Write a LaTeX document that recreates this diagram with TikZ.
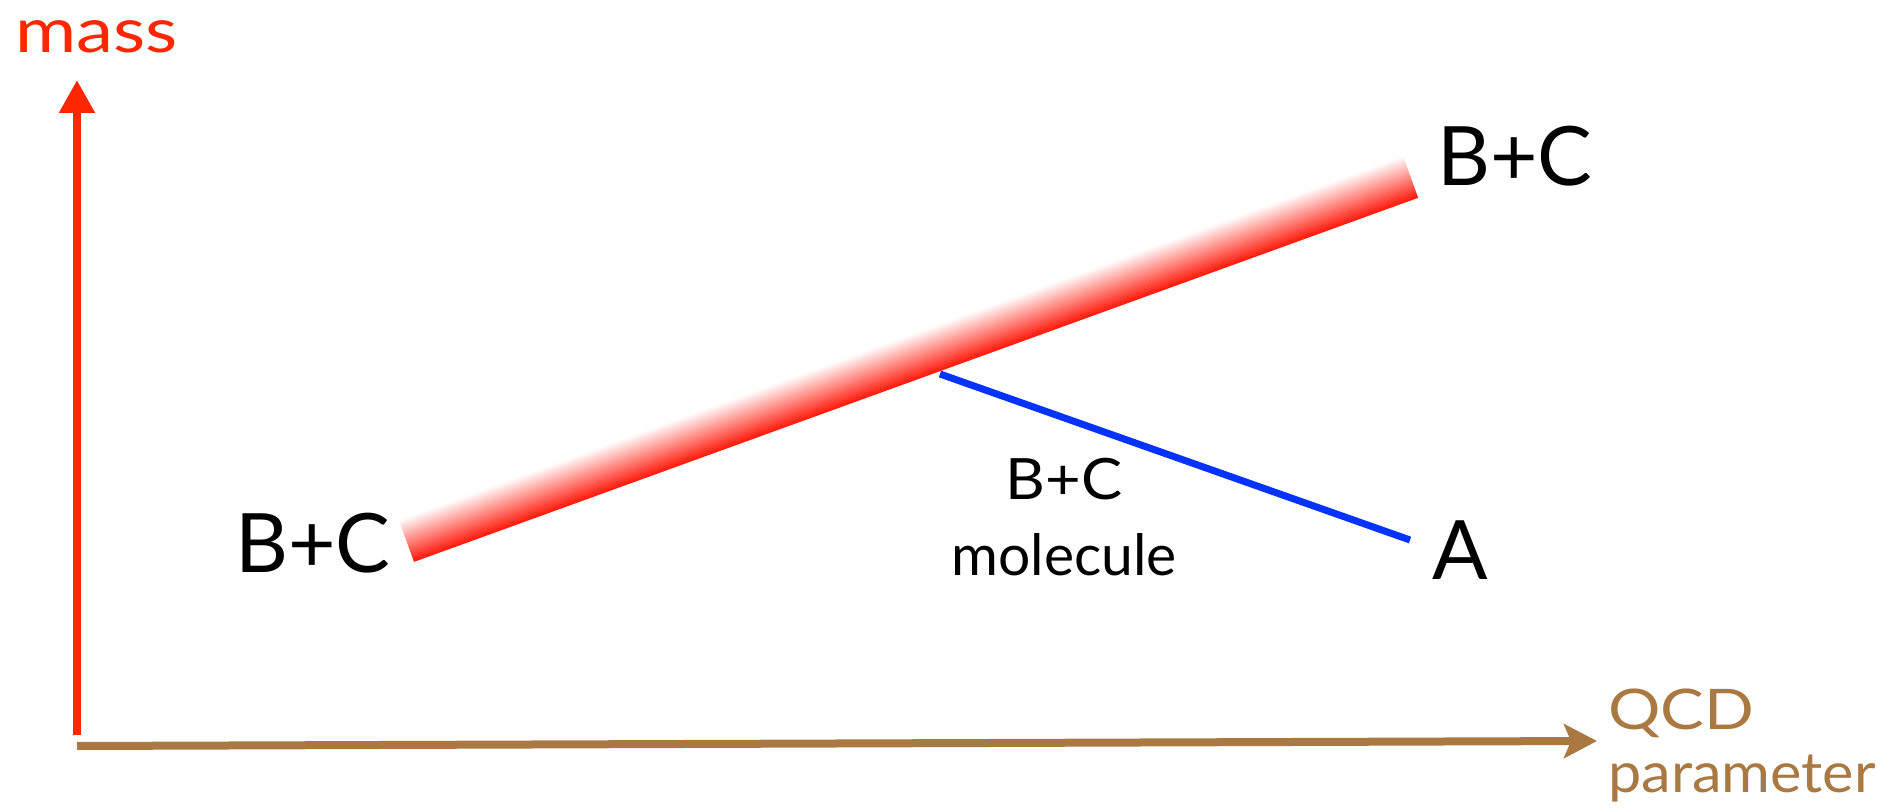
\documentclass[tikz,border=0pt]{standalone}
\usepackage{fontspec}
\usepackage{graphicx}
\setmainfont{Lato}
\usetikzlibrary{arrows.meta}
\definecolor{axisred}{RGB}{255,38,0}
\definecolor{axisbrown}{RGB}{170,121,66}
\definecolor{lineblue}{RGB}{4,51,255}
\definecolor{bandred}{RGB}{255,25,10}
\tikzset{
  lbl/.style={inner sep=0pt, anchor=base west, text=black},
  biglbl/.style={lbl, font=\fontsize{82}{90}\selectfont},
  axline/.style={line width=8pt},
}
\begin{document}
\begin{tikzpicture}[x=1pt,y=1pt]
\useasboundingbox (0,0) rectangle (1895,811);
% axes
\coordinate (origV) at (77,76);
\coordinate (topV) at (77,731);
\coordinate (origH) at (77,65);
\coordinate (endH) at (1597,70);
\draw[axline, axisred, -{Triangle[width=34pt,length=33pt]}] (origV) -- (topV);
\draw[axline, axisbrown, -{Stealth[width=34pt,length=33pt,inset=7pt]}] (origH) -- (endH);
\node[lbl, text=axisred, font=\fontsize{62}{70}\selectfont] (mass) at (15,758) {\scalebox{1.2}[1]{mass}};
\node[lbl, text=axisbrown, font=\fontsize{56}{64}\selectfont] (qcd) at (1608,81) {\scalebox{1.17}[1]{QCD}};
\node[lbl, text=axisbrown, font=\fontsize{56}{64}\selectfont] (param) at (1608,18) {\scalebox{1.06}[1]{parameter}};
% band
\coordinate (bandL) at (406.5,270);
\coordinate (bandR) at (1410.5,634);
\begin{scope}[shift={(bandL)}, rotate=19.93]
  \foreach \i in {0,...,43} {
    \pgfmathtruncatemacro\p{100*(\i+0.5)/44}
    \draw[line width=1.4pt, bandred!\p!white] (0,{22-\i-0.5}) -- (1068,{22-\i-0.5});
  }
\end{scope}
% blue line
\coordinate (blueS) at (940,437);
\coordinate (blueE) at (1410,271);
\draw[line width=7pt, lineblue] (blueS) -- (blueE);
% labels
\node[biglbl] (bcL) at (235,238) {B+C};
\node[biglbl] (bcR) at (1437,625) {B+C};
\node[biglbl] (a) at (1432,231) {A};
\node[inner sep=0pt, anchor=base, font=\fontsize{57}{64}\selectfont] (bcm) at (1064,311) {\scalebox{1.08}[1]{B+C}};
\node[inner sep=0pt, anchor=base, font=\fontsize{57}{64}\selectfont] (mol) at (1064,235) {molecule};
\end{tikzpicture}
\end{document}
